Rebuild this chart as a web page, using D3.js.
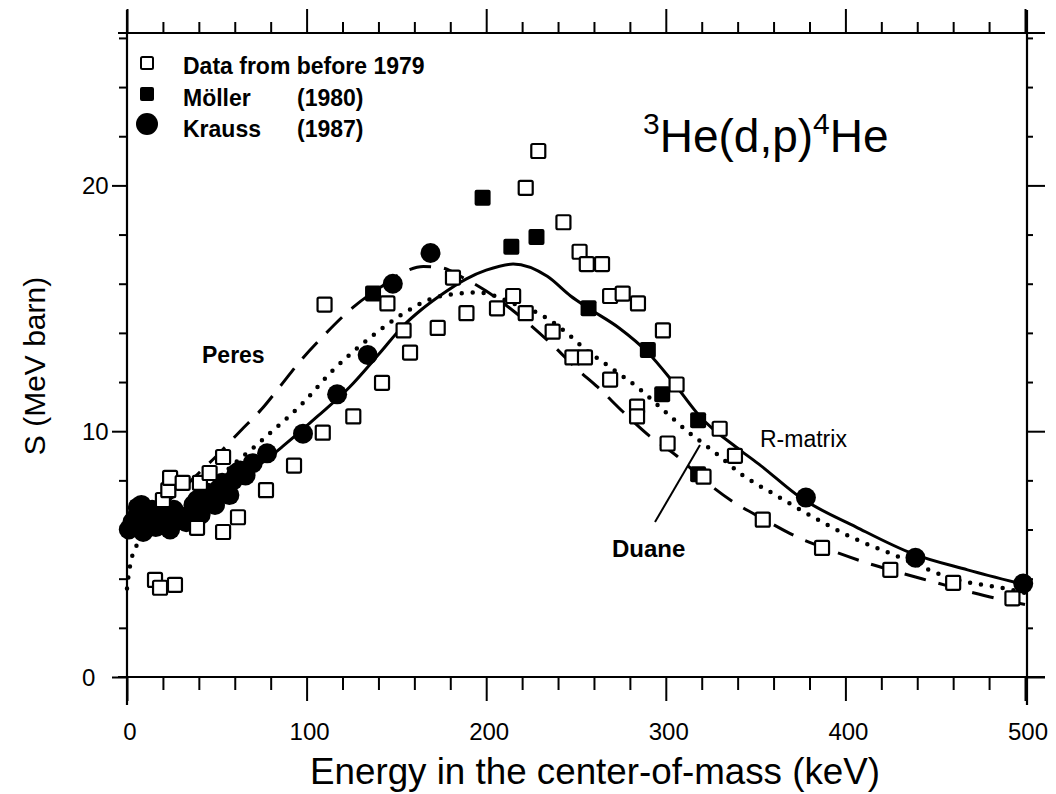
<!DOCTYPE html>
<html>
<head>
<meta charset="utf-8">
<script src="https://cdn.jsdelivr.net/npm/d3@7"></script>
<style>
  body { margin: 0; background: #fff; }
  svg { display: block; }
  text { font-family: "Liberation Sans", Arial, sans-serif; fill: #000; }
</style>
</head>
<body>
<svg id="chart" width="1056" height="794"></svg>
<script>
// R-matrix fit (solid)
const rmatrixE = [0, 10, 20, 30, 40, 50, 63, 75, 87, 106, 124, 141, 154, 164, 174, 189, 200, 215, 234, 247, 257, 274, 290, 304, 319, 341, 352, 375, 406, 438, 468, 500]
const rmatrixS = [6.0, 6.1, 6.3, 6.5, 6.9, 7.4, 8.1, 8.7, 9.4, 10.6, 11.8, 13.2, 14.3, 14.95, 15.5, 16.2, 16.55, 16.8, 16.3, 15.5, 15.0, 14.2, 13.2, 12.0, 10.6, 9.25, 8.65, 7.3, 6.1, 5.0, 4.36, 3.75]

// Peres (dashed)
const peresE = [0, 10, 20, 30, 40, 50, 63, 75, 85, 97, 109, 126, 142, 155, 165, 175, 187, 200, 215, 237, 251, 262, 276, 291, 306, 319, 337, 355, 373, 392, 412, 430, 449, 470, 493, 500]
const peresS = [6.1, 6.5, 7.0, 7.6, 8.3, 9.0, 10.0, 10.9, 11.8, 12.9, 13.85, 15.05, 15.9, 16.5, 16.7, 16.65, 16.25, 15.7, 14.9, 13.5, 12.5, 11.8, 10.8, 9.8, 9.0, 8.15, 7.15, 6.4, 5.7, 5.15, 4.64, 4.25, 3.87, 3.45, 3.05, 2.95]

// Duane (dotted)
const duaneE = [0, 1, 2.5, 5, 10, 20, 30, 40, 50, 60, 70, 80, 96, 115, 137, 152, 172, 185, 195, 205, 215, 229, 244, 254, 269, 284, 298, 312, 328, 343, 360, 375, 403, 427, 460, 493, 500]
const duaneS = [3.6, 4.2, 4.8, 5.3, 5.8, 6.3, 6.8, 7.3, 8.0, 8.7, 9.3, 9.95, 11.0, 12.5, 13.9, 14.7, 15.45, 15.6, 15.65, 15.5, 15.2, 14.8, 14.05, 13.4, 12.6, 11.8, 10.9, 10.0, 9.1, 8.2, 7.45, 6.8, 5.7, 4.97, 4.0, 3.54, 3.42]

// Data from before 1979 (open squares)
const oldE = [15.6, 18.4, 26.7, 20, 23, 24, 31, 40.6, 46, 53.5, 39, 53.5, 61.8, 77.4, 93, 109, 126, 142, 157.6, 154, 110, 145, 173, 181.5, 189, 206, 215, 222, 229, 222, 237, 243, 248, 255, 252, 256, 264.5, 269, 276, 284.5, 269, 284, 284, 298.4, 301, 306, 321, 330, 338.5, 354, 387, 425, 460, 493]
const oldS = [3.95, 3.63, 3.75, 7.2, 7.6, 8.1, 7.9, 7.9, 8.3, 8.95, 6.07, 5.9, 6.5, 7.6, 8.6, 9.94, 10.6, 11.97, 13.2, 14.1, 15.15, 15.2, 14.2, 16.25, 14.8, 15.0, 15.5, 14.8, 21.4, 19.9, 14.05, 18.5, 13.0, 13.0, 17.3, 16.8, 16.8, 15.5, 15.6, 15.2, 12.1, 11.0, 10.6, 14.1, 9.5, 11.9, 8.15, 10.1, 9.0, 6.4, 5.25, 4.36, 3.83, 3.2]

// Möller (1980), filled squares
const mollerE = [137, 198, 214, 228, 257, 290, 298, 318, 318]
const mollerS = [15.6, 19.5, 17.5, 17.9, 15.0, 13.3, 11.5, 10.45, 8.25]

// Krauss (1987), filled circles
const kraussE = [1, 3, 5, 6, 8, 9, 11, 12, 14, 16, 18, 20, 22, 24, 26, 28, 30, 33, 35, 37, 39, 41, 43, 45, 47, 49, 51, 53, 55, 57, 59, 61, 63, 66, 70, 78, 98, 117, 134, 148, 169, 378, 439, 499]
const kraussS = [6.0, 6.3, 6.5, 6.9, 7.0, 5.9, 6.3, 6.6, 6.8, 6.1, 6.4, 6.7, 6.3, 6.0, 6.8, 6.6, 6.5, 6.3, 6.6, 7.0, 7.2, 6.6, 7.0, 7.5, 7.3, 7.0, 7.6, 7.9, 7.8, 7.4, 8.0, 8.3, 8.4, 8.2, 8.7, 9.1, 9.9, 11.5, 13.1, 16.0, 17.25, 7.3, 4.85, 3.8]

const xMajor = [0, 100, 200, 300, 400, 500]
const yMajor = [0, 10, 20]

const svg = d3.select('#chart')

const x = d3.scaleLinear().domain([0, 500]).range([127, 1025])
const y = d3.scaleLinear().domain([0, 26.2]).range([677, 33])

const xMinor = d3.range(0, 501, 20).filter(d => d % 100 !== 0)
const yMinor = d3.range(0, 27, 2).filter(d => d % 10 !== 0)

// frame lines (slightly overshooting like the scanned plot)
const frame = svg.append('g').attr('stroke', '#000').attr('stroke-width', 2.2)
frame.append('line').attr('x1', x(0)).attr('x2', x(0)).attr('y1', 10).attr('y2', 705)
frame.append('line').attr('x1', x(500) + 2).attr('x2', x(500) + 2).attr('y1', 10).attr('y2', 705)
frame.append('line').attr('x1', 118).attr('x2', 1045).attr('y1', y(26.2)).attr('y2', y(26.2))
frame.append('line').attr('x1', 118).attr('x2', 1045).attr('y1', y(0)).attr('y2', y(0))

function drawAxis(axis, transform) {
  const g = svg.append('g').attr('transform', transform).call(axis)
  g.select('.domain').remove()
  g.selectAll('.tick line').attr('stroke', '#000').attr('stroke-width', 2)
  g.selectAll('.tick text').remove()
}

drawAxis(d3.axisBottom(x).tickValues(xMajor).tickSize(24), `translate(0,${y(0)})`)
drawAxis(d3.axisBottom(x).tickValues(xMinor).tickSize(13), `translate(0,${y(0)})`)
drawAxis(d3.axisTop(x).tickValues(xMajor).tickSize(24), `translate(0,${y(26.2)})`)
drawAxis(d3.axisTop(x).tickValues(xMinor).tickSize(11), `translate(0,${y(26.2)})`)
drawAxis(d3.axisLeft(y).tickValues(yMajor).tickSize(15), `translate(${x(0)},0)`)
drawAxis(d3.axisLeft(y).tickValues(yMinor).tickSize(8), `translate(${x(0)},0)`)
drawAxis(d3.axisRight(y).tickValues(yMajor).tickSize(18), `translate(${x(500) + 2},0)`)
drawAxis(d3.axisRight(y).tickValues(yMinor).tickSize(6), `translate(${x(500) + 2},0)`)

// tick labels
svg.append('g').selectAll('text').data(xMajor).join('text')
  .attr('x', d => x(d) + 3)
  .attr('y', 740)
  .attr('text-anchor', 'middle')
  .attr('font-size', 24)
  .text(d => d)

svg.append('g').selectAll('text').data(yMajor).join('text')
  .attr('x', 82)
  .attr('y', d => y(d) + 9)
  .attr('font-size', 24)
  .text(d => d)

// axis titles
svg.append('text')
  .attr('x', 595).attr('y', 784)
  .attr('text-anchor', 'middle')
  .attr('font-size', 36)
  .attr('textLength', 570)
  .attr('lengthAdjust', 'spacingAndGlyphs')
  .text('Energy in the center-of-mass (keV)')

svg.append('text')
  .attr('transform', 'translate(45,366) rotate(-90)')
  .attr('text-anchor', 'middle')
  .attr('font-size', 30)
  .text('S  (MeV barn)')

// curves
const line = d3.line().curve(d3.curveMonotoneX)
const toPts = (es, ss) => es.map((e, i) => [x(e), y(ss[i])])

svg.append('path')
  .attr('d', line(toPts(rmatrixE, rmatrixS)))
  .attr('fill', 'none').attr('stroke', '#000').attr('stroke-width', 3)

svg.append('path')
  .attr('d', line(toPts(peresE, peresS)))
  .attr('fill', 'none').attr('stroke', '#000').attr('stroke-width', 3)
  .attr('stroke-dasharray', '22 13')

svg.append('path')
  .attr('d', line(toPts(duaneE, duaneS)))
  .attr('fill', 'none').attr('stroke', '#000').attr('stroke-width', 4.5)
  .attr('stroke-linecap', 'round')
  .attr('stroke-dasharray', '0 11')

// Krauss circles
svg.append('g').selectAll('circle').data(kraussE).join('circle')
  .attr('cx', d => x(d))
  .attr('cy', (d, i) => y(kraussS[i]))
  .attr('r', 10)
  .attr('fill', '#000')

// Möller filled squares
svg.append('g').selectAll('rect').data(mollerE).join('rect')
  .attr('x', d => x(d) - 8)
  .attr('y', (d, i) => y(mollerS[i]) - 8)
  .attr('width', 16).attr('height', 16).attr('rx', 2)
  .attr('fill', '#000')

// old data open squares
svg.append('g').selectAll('rect').data(oldE).join('rect')
  .attr('x', d => x(d) - 7)
  .attr('y', (d, i) => y(oldS[i]) - 7)
  .attr('width', 14).attr('height', 14).attr('rx', 1.5)
  .attr('fill', '#fff').attr('stroke', '#000').attr('stroke-width', 2.2)

// legend
const legend = svg.append('g')
legend.append('rect').attr('x', 141).attr('y', 57).attr('width', 12).attr('height', 12).attr('rx', 1.5)
  .attr('fill', '#fff').attr('stroke', '#000').attr('stroke-width', 2)
legend.append('rect').attr('x', 140).attr('y', 87).attr('width', 14).attr('height', 14).attr('rx', 2)
  .attr('fill', '#000')
legend.append('circle').attr('cx', 147).attr('cy', 124).attr('r', 11).attr('fill', '#000')

const legendText = [
  { x: 183, y: 74, t: 'Data from before 1979' },
  { x: 183, y: 106, t: 'Möller' },
  { x: 297, y: 106, t: '(1980)' },
  { x: 183, y: 137, t: 'Krauss' },
  { x: 297, y: 137, t: '(1987)' }
]
legend.selectAll('text').data(legendText).join('text')
  .attr('x', d => d.x).attr('y', d => d.y)
  .attr('font-size', 23).attr('font-weight', 'bold')
  .text(d => d.t)

// reaction title
const title = svg.append('text').attr('x', 643).attr('y', 152).attr('font-size', 46)
title.append('tspan').attr('font-size', 30).attr('dy', -18).text('3')
title.append('tspan').attr('dy', 18).text('He(d,p)')
title.append('tspan').attr('font-size', 30).attr('dy', -18).text('4')
title.append('tspan').attr('dy', 18).text('He')

// curve labels
svg.append('text').attr('x', 202).attr('y', 363).attr('font-size', 23).attr('font-weight', 'bold').text('Peres')
svg.append('text').attr('x', 760).attr('y', 447).attr('font-size', 23).text('R-matrix')
svg.append('text').attr('x', 612).attr('y', 557).attr('font-size', 24).attr('font-weight', 'bold').text('Duane')
svg.append('line')
  .attr('x1', 655).attr('y1', 522).attr('x2', 700).attr('y2', 445)
  .attr('stroke', '#000').attr('stroke-width', 2)
</script>
</body>
</html>
